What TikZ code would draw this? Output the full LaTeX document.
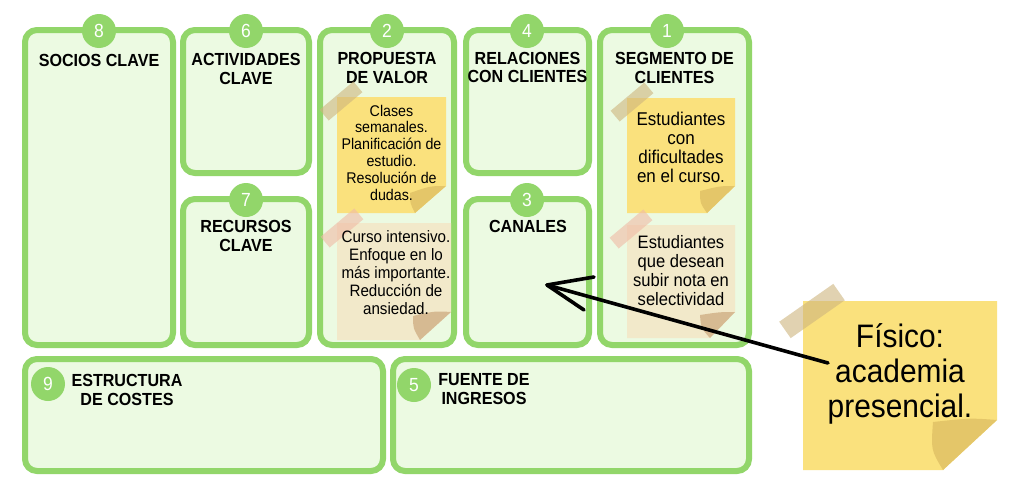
\documentclass[tikz,border=0pt]{standalone}
\usepackage{fontspec}
\setmainfont{Liberation Sans}
\newfontfamily\nfont[FakeStretch=0.92]{Liberation Sans}
\definecolor{cgreen}{RGB}{146,214,106}
\definecolor{cfill}{RGB}{236,250,226}
\definecolor{cyellow}{RGB}{250,225,125}
\definecolor{cyfold}{RGB}{228,198,105}
\definecolor{cbeige}{RGB}{242,233,202}
\definecolor{cbfold}{RGB}{214,186,146}
\definecolor{ctape}{RGB}{205,180,125}
\definecolor{cpink}{RGB}{240,185,165}
\tikzset{
  card/.style={draw=cgreen, fill=cfill, line width=6pt, rounded corners=12pt},
  num/.style={circle, fill=cgreen, minimum size=34pt, inner sep=0pt, text=white,
    font=\nfont\fontsize{19}{19}\selectfont},
  title/.style={anchor=north, inner sep=0pt, align=center,
    font=\nfont\bfseries\fontsize{17.5}{18.5}\selectfont},
  notetext/.style={anchor=north, inner sep=0pt, align=center},
  tapeyel/.style={fill=ctape, opacity=0.6},
  tapepink/.style={fill=cpink, opacity=0.6},
  arrowline/.style={draw=black, line width=3.6pt, line cap=round, line join=round},
}
\newcommand\stape[6]{%
  \fill[#6, rotate around={#5:(#1,#2)}] (#1-#3/2,#2-#4/2) rectangle (#1+#3/2,#2+#4/2);}
\begin{document}
\begin{tikzpicture}[x=1pt,y=-1pt]
\useasboundingbox (0,0) rectangle (1020,490);
\fill[white] (0,0) rectangle (1020,490);
% cards
\draw[card] (25,30) rectangle (173,345);
\draw[card] (183,30) rectangle (309,173);
\draw[card] (183,199) rectangle (309,345);
\draw[card] (320,30) rectangle (454,345);
\draw[card] (466,30) rectangle (589,173);
\draw[card] (466,199) rectangle (589,345);
\draw[card] (600,30) rectangle (749,345);
\draw[card] (25,359) rectangle (383,471);
\draw[card] (393,359) rectangle (749,471);
% number circles
\node[num] (n8) at (99,31) {8};
\node[num] (n6) at (246,31) {6};
\node[num] (n2) at (387,31) {2};
\node[num] (n4) at (527,31) {4};
\node[num] (n1) at (667,31) {1};
\node[num] (n7) at (246,200) {7};
\node[num] (n3) at (527,200) {3};
\node[num] (n9) at (48,384) {9};
\node[num] (n5) at (414,385) {5};
% titles
\node[title] (tsocios) at (99,54.5) {SOCIOS CLAVE};
\node[title] (tact) at (246,53.5) {ACTIVIDADES\\CLAVE};
\node[title] (tprop) at (387,52.5) {PROPUESTA\\DE VALOR};
\node[title] (trel) at (527.5,52) {RELACIONES\\CON CLIENTES};
\node[title] (tseg) at (674.5,52.5) {SEGMENTO DE\\CLIENTES};
\node[title] (trec) at (246,220.5) {RECURSOS\\CLAVE};
\node[title] (tcan) at (528,220.5) {CANALES};
\node[title] (test) at (127,374.5) {ESTRUCTURA\\DE COSTES};
\node[title] (tfue) at (484,373.5) {FUENTE DE\\INGRESOS};
% sticky note P1
\fill[cyellow] (337,97) -- (446,97) -- (446,186) -- (415,213) -- (337,213) -- cycle;
\fill[cyfold] (446,186) .. controls (430,186) .. (410,193) .. controls (410,203) .. (415,213) -- cycle;
\stape{341}{101}{44}{14}{40}{tapeyel}
\node[notetext, font=\nfont\fontsize{15.5}{16.8}\selectfont] (p1) at (391.5,104.7)
  {Clases\\semanales.\\Planificación de\\estudio.\\Resolución de\\dudas.};
% sticky note P2
\fill[cbeige] (337,223) -- (451,223) -- (451,312) -- (420,340) -- (337,340) -- cycle;
\fill[cbfold] (451,312) .. controls (435,311) .. (413,316) .. controls (413,328) .. (420,340) -- cycle;
\stape{342}{228}{44}{14}{40}{tapepink}
\node[notetext, font=\nfont\fontsize{16.5}{18}\selectfont] (p2) at (396,230)
  {Curso intensivo.\\Enfoque en lo\\más importante.\\Reducción de\\ansiedad.};
% sticky note S1
\fill[cyellow] (627,98) -- (735,98) -- (735,186) -- (707,213) -- (627,213) -- cycle;
\fill[cyfold] (735,186) .. controls (720,186) .. (700,191) .. controls (700,203) .. (707,213) -- cycle;
\stape{632}{102}{44}{14}{40}{tapeyel}
\node[notetext, font=\nfont\fontsize{18.5}{19}\selectfont] (s1) at (681,111.5)
  {Estudiantes\\con\\dificultades\\en el curso.};
% sticky note S2
\fill[cbeige] (627,225) -- (735,225) -- (735,312) -- (710,338) -- (627,338) -- cycle;
\fill[cbfold] (735,312) .. controls (720,312) .. (700,315) .. controls (701,328) .. (710,338) -- cycle;
\stape{631}{229}{44}{14}{40}{tapepink}
\node[notetext, font=\nfont\fontsize{18}{19}\selectfont] (s2) at (681,235)
  {Estudiantes\\que desean\\subir nota en\\selectividad};
% big sticky note
\fill[cyellow] (803,301) -- (997,301) -- (997,420) -- (943,470) -- (803,470) -- cycle;
\fill[cyfold] (997,420) .. controls (970,418) .. (933,422) .. controls (931,450) .. (943,470) -- cycle;
\stape{812}{311}{66}{20}{35}{tapeyel}
\node[notetext, font=\nfont\fontsize{32.5}{35}\selectfont] (big) at (900,323)
  {Físico:\\academia\\presencial.};
% arrow
\coordinate (astart) at (828,363);
\coordinate (atip) at (547,285);
\draw[arrowline] (astart) -- (atip);
\draw[arrowline] (atip) ++(47,-8) -- (atip) -- ++(37,25);
\end{tikzpicture}
\end{document}
